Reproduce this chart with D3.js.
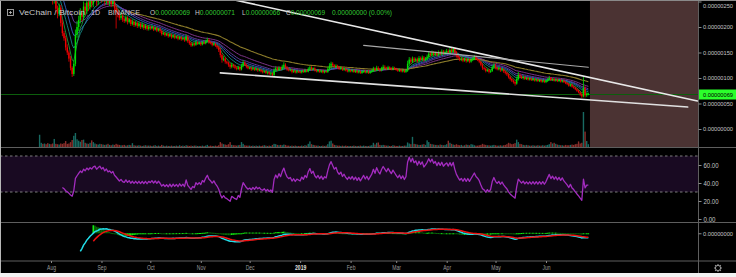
<!DOCTYPE html>
<html><head><meta charset="utf-8">
<script src="https://cdn.jsdelivr.net/npm/d3@7"></script>
<style>html,body{margin:0;padding:0;background:#000;overflow:hidden}svg{display:block}</style>
</head><body>
<svg id="c" width="736" height="277"></svg>
<script>
// ---------------- DATA (prices in satoshi = 1e-8 BTC) ----------------
const startDate = "2018-07-25";
const closes = [
 270,300,282,306,286,272,292,
 266,252,262,236,226,238,208,188,178,160,150,138,120,108,128,185,200,214,228,220,240,232,248,240,252,246,258,262,250,258,265,
 255,262,250,258,248,252,245,250,238,232,225,218,222,215,212,218,210,214,206,210,204,208,202,206,200,204,198,202,196,200,
 197,200,195,198,193,196,192,186,188,184,186,182,185,180,183,179,181,177,180,176,178,174,181,172,168,164,167,165,170,167,169,
 166,170,168,172,175,170,168,165,167,163,160,155,145,136,138,132,130,126,122,126,123,120,118,121,117,124,130,126,122,119,
 120,117,119,116,118,115,116,113,112,113,110,111,108,109,106,115,119,116,120,117,122,126,121,117,115,116,112,114,111,113,112,
 111,114,112,115,113,118,121,117,119,115,113,115,112,114,111,113,112,118,124,128,125,122,124,120,118,120,116,118,115,113,115,
 113,115,112,114,111,113,110,112,114,111,113,110,112,114,118,115,120,117,115,119,122,120,118,121,119,117,120,118,
 116,114,116,113,115,112,114,128,136,132,138,134,137,133,139,136,140,135,138,142,148,145,150,146,149,145,150,147,152,148,151,
 153,150,155,152,157,150,144,140,136,138,134,137,133,136,132,135,138,141,137,135,132,126,120,118,114,116,112,114,121,125,
 120,117,119,115,117,113,110,107,102,98,95,92,89,98,106,103,100,102,98,100,97,99,96,98,95,97,94,96,93,95,92,
 94,97,100,96,98,95,97,94,96,93,95,92,90,88,85,87,83,81,78,75,72,68,64,80,66,69,69
];
const wickHi = [
 8,10,12,9,7,8,6,
 6,5,7,4,6,8,5,6,4,5,6,4,5,3,6,10,12,8,9,6,10,7,8,6,9,7,8,10,6,7,9,
 6,8,5,7,4,6,5,6,4,5,4,3,6,4,3,5,3,4,3,5,3,4,3,4,3,5,3,4,2,4,
 3,4,2,3,3,2,3,2,3,2,3,2,3,2,2,3,2,2,3,2,2,2,4,2,2,3,2,3,4,2,3,
 2,3,2,3,4,2,2,3,2,2,2,3,4,3,5,3,2,2,3,4,2,3,2,3,2,4,5,3,2,2,
 2,2,3,2,2,2,2,2,2,2,2,2,2,2,2,4,4,3,3,2,4,5,3,2,2,2,2,2,2,2,2,
 2,2,2,3,2,3,3,2,2,2,2,2,2,2,2,2,2,4,5,4,3,2,3,2,2,2,2,2,2,2,2,
 2,2,2,2,2,2,2,2,2,2,2,2,2,2,4,3,4,3,2,3,4,3,2,3,2,2,3,2,
 2,2,2,2,2,2,2,6,5,4,4,3,3,3,4,3,4,3,3,4,5,4,4,3,3,3,4,3,4,3,3,
 4,3,5,4,4,3,3,3,2,3,2,3,2,3,2,3,3,4,3,2,2,2,3,2,2,2,2,2,4,4,
 3,2,3,2,2,2,2,2,2,2,2,2,2,5,6,3,2,3,2,2,2,2,2,2,2,2,2,2,2,2,2,
 2,3,4,2,2,2,2,2,2,2,2,2,2,2,2,2,2,2,2,2,2,2,3,22,4,2,2
];
const wickLo = [
 9,7,10,8,11,9,8,
 10,8,6,7,9,5,7,6,5,6,5,6,5,6,4,5,6,8,7,9,6,8,7,9,6,8,7,6,9,7,6,
 7,5,8,6,5,7,6,5,10,35,6,5,4,5,4,3,5,3,4,3,4,3,4,3,4,3,4,3,3,3,
 3,2,3,2,3,2,4,3,2,3,2,3,2,3,2,3,2,3,2,3,2,3,2,3,3,3,2,3,2,2,2,
 3,2,2,2,2,3,2,3,2,2,3,4,5,6,3,4,3,4,4,3,3,3,3,2,3,2,3,2,3,2,
 2,3,2,2,2,3,2,2,3,2,2,3,2,2,3,2,2,2,2,2,2,2,3,3,2,2,3,2,2,2,2,
 2,2,2,2,2,2,2,3,2,2,2,2,2,2,2,2,2,2,2,3,2,2,2,2,2,2,2,2,2,2,2,
 2,2,2,2,2,2,2,2,2,2,2,2,2,2,2,2,2,2,3,2,2,2,2,2,2,2,2,2,
 2,2,2,2,2,2,2,2,3,4,3,3,2,3,3,2,3,3,2,3,3,3,3,3,3,3,3,3,3,3,3,
 3,3,3,3,3,4,4,3,3,3,3,2,3,2,3,2,2,3,2,2,3,3,4,3,3,2,3,2,2,3,
 3,2,2,3,2,3,3,3,3,3,3,3,4,2,3,3,2,3,2,2,2,2,2,2,2,2,2,2,2,2,2,
 2,2,2,2,2,2,2,2,2,2,2,2,2,2,2,2,2,2,2,2,2,3,3,2,4,3,3
];
const volumes = [
 35,12,9,10,8,11,9,
 8,10,23,9,8,7,10,9,11,17,9,10,14,20,32,40,22,18,15,20,21,12,10,9,12,19,14,10,8,7,9,
 8,7,6,7,9,6,5,7,6,9,7,6,5,5,6,4,5,6,5,11,5,4,4,5,4,3,4,5,4,4,
 4,3,4,5,3,4,3,6,4,3,4,3,3,4,3,3,4,3,5,3,4,3,5,4,3,4,3,4,4,3,3,
 3,4,3,4,6,3,4,3,3,4,3,5,14,10,8,7,6,8,14,6,5,5,4,5,6,14,9,5,4,4,
 4,3,4,3,4,3,4,3,4,5,4,3,4,3,6,9,8,6,5,6,5,7,6,4,4,3,4,3,4,3,3,
 3,4,3,5,4,9,16,8,6,5,4,4,3,3,4,3,4,8,16,18,10,6,5,4,4,3,4,3,4,3,3,
 3,3,4,3,3,3,4,3,4,3,3,3,4,5,12,7,12,13,6,5,6,5,4,4,3,3,5,4,
 3,3,4,3,3,4,4,13,10,8,29,9,8,7,6,6,7,8,6,19,14,9,8,7,6,6,5,7,6,5,6,
 8,18,12,9,7,6,8,6,5,6,4,5,7,6,5,8,7,5,4,4,5,6,9,7,6,5,5,4,5,6,
 5,4,4,5,4,5,6,8,12,10,8,9,11,21,14,9,8,6,5,6,5,4,4,5,4,4,5,4,4,5,4,
 5,6,8,14,10,12,9,7,6,5,5,4,6,5,5,6,7,6,8,9,16,10,12,100,44,17,8
];
const priceTicks = [0, 50, 100, 150, 200, 250];
const rsiTicks = [0, 20, 40, 60];
const macdTicks = [0];
const monthTicks = ["2018-08-01","2018-09-01","2018-10-01","2018-11-01","2018-12-01","2019-01-01","2019-02-01","2019-03-01","2019-04-01","2019-05-01","2019-06-01"];
const monthLabels = ["Aug","Sep","Oct","Nov","Dec","2019","Feb","Mar","Apr","May","Jun"];
const trendLines = [
  [["2018-11-16", 257], ["2019-09-02", 55]],
  [["2018-11-13", 110], ["2019-08-27", 43]],
  [["2019-02-09", 164], ["2019-06-27", 121]]
];
const shadeStart = "2019-06-28";
const emaLengths = [5, 10, 15, 20, 30];
const slowEmaLength = 55;
const lastPrice = 69;
const legendTitle = ["VeChain / Bitcoin", "1D", "BINANCE"];
const legendOHLC = [["O","0.00000069"],["H","0.00000071"],["L","0.00000066"],["C","0.00000069"]];
const legendChange = "0.00000000 (0.00%)";

// ---------------- HELPERS ----------------
const parse = d3.utcParse("%Y-%m-%d");
const t0 = parse(startDate);
const data = closes.map((c, i) => {
  const o = i === 0 ? c : closes[i - 1];
  return {date: d3.utcDay.offset(t0, i), o, c,
    h: Math.max(o, c) + wickHi[i], l: Math.min(o, c) - wickLo[i], v: volumes[i]};
});
function ema(vals, n) {
  const a = 2 / (n + 1), out = vals.map(() => null);
  let first = vals.findIndex(v => v != null); if (first < 0) return out;
  let s = 0;
  for (let i = first; i < vals.length; i++) {
    const k = i - first;
    if (k < n - 1) { s += vals[i]; continue; }
    if (k === n - 1) { s += vals[i]; out[i] = s / n; continue; }
    out[i] = a * vals[i] + (1 - a) * out[i - 1];
  }
  return out;
}
function rsi(vals, n) {
  const out = vals.map(() => null); let g = 0, l = 0;
  for (let i = 1; i < vals.length; i++) {
    const d = vals[i] - vals[i - 1], up = Math.max(d, 0), dn = Math.max(-d, 0);
    if (i <= n) { g += up; l += dn; if (i === n) { g /= n; l /= n; out[i] = l === 0 ? 100 : 100 - 100 / (1 + g / l); } }
    else { g = (g * (n - 1) + up) / n; l = (l * (n - 1) + dn) / n; out[i] = l === 0 ? 100 : 100 - 100 / (1 + g / l); }
  }
  return out;
}
const e12 = ema(closes, 12), e26 = ema(closes, 26);
const macd = closes.map((c, i) => e26[i] == null ? null : e12[i] - e26[i]);
const signal = ema(macd, 9);
const hist = macd.map((m, i) => signal[i] == null ? null : m - signal[i]);
const rsiVals = rsi(closes, 14);

// ---------------- LAYOUT ----------------
const W = 736, H = 277, AX = 698.5;
const P = {top: 0, bottom: 147.5}, R = {top: 147.5, bottom: 222.5}, M = {top: 222.5, bottom: 261};
const x = d3.scaleUtc().domain([parse("2018-08-01"), parse("2019-06-01")]).range([51, 546]);
const yP = d3.scaleLinear().domain([0, 250]).range([129, 1.5]);
const yV = d3.scaleLinear().domain([0, 100]).range([147, 112]);
const yR = d3.scaleLinear().domain([0, 100]).range([219, 129]);
const yM = d3.scaleLinear().domain([-46.2, 18.8]).range([261, 222]);
const FONT = "'Liberation Sans', Arial, sans-serif";
function squeeze(sel, w) { sel.attr("textLength", w).attr("lengthAdjust", "spacingAndGlyphs"); }

const svg = d3.select("#c");
svg.append("rect").attr("width", W).attr("height", H).attr("fill", "#000");
const defs = svg.append("defs");
[["cp", P], ["cr", R], ["cm", M]].forEach(([id, p]) =>
  defs.append("clipPath").attr("id", id).append("rect")
    .attr("x", 1).attr("y", p.top + 0.5).attr("width", AX - 1).attr("height", p.bottom - p.top - 1));

// ---------------- PRICE PANE ----------------
const gp = svg.append("g").attr("clip-path", "url(#cp)");
gp.append("rect").attr("x", x(parse(shadeStart))).attr("y", 1).attr("width", AX - x(parse(shadeStart)))
  .attr("height", P.bottom - 1).attr("fill", "#4b3333");
gp.selectAll("rect.vol").data(data).join("rect").attr("class", "vol")
  .attr("x", d => x(d.date) - 0.7).attr("width", 1.4)
  .attr("y", d => yV(d.v)).attr("height", d => yV(0) - yV(d.v))
  .attr("fill", d => d.c >= d.o ? "#186a62" : "#8a2e2b");
gp.append("line").attr("x1", 0).attr("x2", AX).attr("y1", Math.round(yP(lastPrice)) + 0.5).attr("y2", Math.round(yP(lastPrice)) + 0.5)
  .attr("stroke", "#0c5e0c").attr("stroke-width", 1);
const ribbonColors = ["#1f9a3c", "#178a86", "#3a5fc4", "#6a3da6", "#8a3a95"];
const lineGen = arr => d3.line().defined((d, i) => arr[i] != null).x(d => x(d.date)).y((d, i) => yP(arr[i]));
emaLengths.slice().reverse().forEach((n, k) => {
  const arr = ema(closes, n), col = ribbonColors[emaLengths.length - 1 - k];
  gp.append("path").datum(data).attr("d", lineGen(arr)).attr("fill", "none").attr("stroke", col).attr("stroke-width", 1).attr("opacity", 0.9);
});
const slow = ema(closes, slowEmaLength);
gp.append("path").datum(data).attr("d", lineGen(slow)).attr("fill", "none").attr("stroke", "#8c7c2a").attr("stroke-width", 1.1);
const cg = gp.append("g");
cg.selectAll("line").data(data).join("line")
  .attr("x1", d => x(d.date)).attr("x2", d => x(d.date))
  .attr("y1", d => yP(d.h)).attr("y2", d => yP(d.l))
  .attr("stroke", d => d.c >= d.o ? "#00e000" : "#f00000").attr("stroke-width", 0.8);
cg.selectAll("rect").data(data).join("rect")
  .attr("x", d => x(d.date) - 0.7).attr("width", 1.4)
  .attr("y", d => yP(Math.max(d.o, d.c))).attr("height", d => Math.max(0.8, Math.abs(yP(d.o) - yP(d.c))))
  .attr("fill", d => d.c >= d.o ? "#00e000" : "#f00000");
const tlStyle = [{c: "#e8e8e8", w: 1.6}, {c: "#e0e0e0", w: 1.6}, {c: "#a8a8a8", w: 1.1}];
trendLines.forEach((t, i) => {
  gp.append("line").attr("x1", x(parse(t[0][0]))).attr("y1", yP(t[0][1]))
    .attr("x2", x(parse(t[1][0]))).attr("y2", yP(t[1][1]))
    .attr("stroke", tlStyle[i].c).attr("stroke-width", tlStyle[i].w).attr("stroke-linecap", "round");
});

// ---------------- RSI PANE ----------------
const gr = svg.append("g").attr("clip-path", "url(#cr)");
gr.append("rect").attr("x", 0).attr("width", AX).attr("y", yR(70)).attr("height", yR(30) - yR(70)).attr("fill", "#190a22");
[70, 30].forEach(v => gr.append("line").attr("x1", 0).attr("x2", AX).attr("y1", yR(v)).attr("y2", yR(v))
  .attr("stroke", "#7c7c7c").attr("stroke-dasharray", "2.5,2.5").attr("stroke-width", 1));
gr.append("path").datum(data).attr("d", lineGen(rsiVals).y((d, i) => yR(rsiVals[i])))
  .attr("fill", "none").attr("stroke", "#a32cbf").attr("stroke-width", 1.3).attr("stroke-linejoin", "round");

// ---------------- MACD PANE ----------------
const gm = svg.append("g").attr("clip-path", "url(#cm)");
const hd = data.map((d, i) => ({d, h: hist[i], prev: hist[i - 1]})).filter(e => e.h != null);
gm.selectAll("rect").data(hd).join("rect")
  .attr("x", e => x(e.d.date) - 0.82).attr("width", 1.64)
  .attr("y", e => Math.min(yM(0), yM(e.h))).attr("height", e => Math.max(1, Math.abs(yM(e.h) - yM(0))))
  .attr("fill", e => (e.prev == null || e.h >= e.prev) ? "#11ee11" : "#0a6a0a");
gm.append("path").datum(data).attr("d", lineGen(macd).y((d, i) => yM(macd[i])))
  .attr("fill", "none").attr("stroke", "#22dde8").attr("stroke-width", 1.5);
gm.append("path").datum(data).attr("d", lineGen(signal).y((d, i) => yM(signal[i])))
  .attr("fill", "none").attr("stroke", "#f01010").attr("stroke-width", 1.5);

// ---------------- FRAME / SEPARATORS ----------------
[P.bottom, R.bottom, M.bottom].forEach(yv => svg.append("line").attr("x1", 0).attr("x2", W)
  .attr("y1", yv).attr("y2", yv).attr("stroke", "#5e5e5e").attr("stroke-width", 1));
svg.append("line").attr("x1", AX).attr("x2", AX).attr("y1", 0).attr("y2", 273).attr("stroke", "#5e5e5e");

// ---------------- AXES ----------------
function styleAxis(g, fs) {
  g.select(".domain").remove();
  g.selectAll(".tick line").attr("stroke", "#8a8a8a");
  g.selectAll(".tick text").attr("fill", "#c4c4c4").attr("font-family", FONT).attr("font-size", fs || 7);
}
const fmt8 = v => (v * 1e-8).toFixed(8);
const pa = svg.append("g").attr("transform", `translate(${AX},0)`)
  .call(d3.axisRight(yP).tickValues(priceTicks).tickFormat(fmt8).tickSize(3).tickPadding(1.5)).call(styleAxis, 6.1);
squeeze(pa.selectAll(".tick text"), 30);
// keep the top-most label inside the picture
pa.selectAll(".tick text").filter(d => yP(d) < 4).attr("dy", "0.9em");
const ra = svg.append("g").attr("transform", `translate(${AX},0)`)
  .call(d3.axisRight(yR).tickValues(rsiTicks).tickFormat(d3.format(".2f")).tickSize(3).tickPadding(2)).call(styleAxis, 7);
ra.selectAll(".tick text").each(function () { squeeze(d3.select(this), this.textContent.length * 3); });
const ma = svg.append("g").attr("transform", `translate(${AX},0)`)
  .call(d3.axisRight(yM).tickValues(macdTicks).tickFormat(fmt8).tickSize(3).tickPadding(1.5)).call(styleAxis, 6.1);
squeeze(ma.selectAll(".tick text"), 30);
const xa = svg.append("g").attr("transform", `translate(0,${M.bottom})`)
  .call(d3.axisBottom(x).tickValues(monthTicks.map(parse)).tickFormat((d, i) => monthLabels[i]).tickSize(2).tickPadding(2.5));
styleAxis(xa, 7);
xa.selectAll(".tick text").attr("fill", (d, i) => monthLabels[i] === "2019" ? "#e0e0e0" : "#9a9a9a")
  .attr("font-weight", (d, i) => monthLabels[i] === "2019" ? "bold" : "normal")
  .each(function () { squeeze(d3.select(this), this.getComputedTextLength() * 0.72); });

// last price label
const ly = Math.round(yP(lastPrice)) + 0.5;
svg.append("rect").attr("x", AX + 0.5).attr("y", ly - 5).attr("width", W - AX).attr("height", 10).attr("fill", "#2bff2b");
svg.append("text").attr("x", AX + 4.5).attr("y", ly).attr("dy", "0.34em").attr("fill", "#000")
  .attr("font-family", FONT).attr("font-size", 6.1).text(fmt8(lastPrice)).call(squeeze, 30);

// gear icon
const gear = svg.append("g").attr("transform", "translate(718,268)").attr("stroke", "#9a9a9a").attr("fill", "none");
gear.append("circle").attr("r", 2.6).attr("stroke-width", 1);
d3.range(8).forEach(k => {
  const a = k * Math.PI / 4;
  gear.append("line").attr("x1", Math.cos(a) * 2.6).attr("y1", Math.sin(a) * 2.6)
    .attr("x2", Math.cos(a) * 4).attr("y2", Math.sin(a) * 4).attr("stroke-width", 1.1);
});

// ---------------- LEGEND ----------------
const lg = svg.append("g").attr("font-family", FONT).attr("font-size", 7.4);
lg.append("rect").attr("x", 7.5).attr("y", 9.5).attr("width", 6).attr("height", 6).attr("fill", "none").attr("stroke", "#bdbdbd").attr("stroke-width", 0.8);
lg.append("line").attr("x1", 9).attr("x2", 12).attr("y1", 12.5).attr("y2", 12.5).attr("stroke", "#bdbdbd").attr("stroke-width", 0.8);
lg.append("line").attr("x1", 10.5).attr("x2", 10.5).attr("y1", 11).attr("y2", 14).attr("stroke", "#bdbdbd").attr("stroke-width", 0.8);
const titleX = [19, 91, 108], titleW = [66, 9, 32];
legendTitle.forEach((t, i) => lg.append("text").attr("x", titleX[i]).attr("y", 15).attr("fill", "#c9c9c9").text(t).call(squeeze, titleW[i]));
const ohlcX = [150, 195, 242, 286], ohlcW = [40, 40, 38, 39];
legendOHLC.forEach((p, i) => {
  const t = lg.append("text").attr("x", ohlcX[i]).attr("y", 15).call(squeeze, ohlcW[i]);
  t.append("tspan").attr("fill", "#c9c9c9").text(p[0]);
  t.append("tspan").attr("fill", "#32c832").text(p[1]);
});
lg.append("text").attr("x", 332).attr("y", 15).attr("fill", "#32c832").text(legendChange).call(squeeze, 60);

// outer frame (screenshot border)
svg.append("line").attr("x1", 0.5).attr("x2", 0.5).attr("y1", 0).attr("y2", 273).attr("stroke", "#b8b8b8");
svg.append("line").attr("x1", 0).attr("x2", W).attr("y1", 0.5).attr("y2", 0.5).attr("stroke", "#8a8a8a");
svg.append("rect").attr("x", 0).attr("y", 273).attr("width", W).attr("height", 4).attr("fill", "#f2f2f2");
</script>
</body></html>
